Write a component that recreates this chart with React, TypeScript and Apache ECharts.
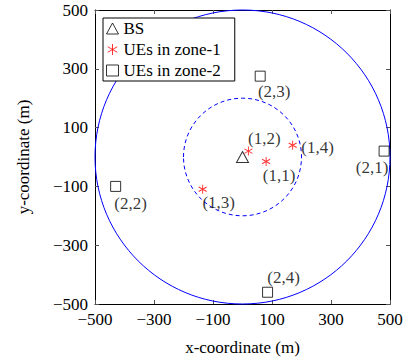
import React, { useEffect, useRef } from "react";
import * as echarts from "echarts";

const tickValues = [-500, -300, -100, 100, 300, 500];

const bsX = [0];
const bsY = [0];

const zone1Names = ["(1,1)", "(1,2)", "(1,3)", "(1,4)"];
const zone1X = [80, 20, -135, 170];
const zone1Y = [-15, 20, -110, 40];

const zone2Names = ["(2,1)", "(2,2)", "(2,3)", "(2,4)"];
const zone2X = [480, -430, 60, 85];
const zone2Y = [20, -100, 275, -460];

const circleRadii = [500, 200];
const circleDashed = [false, true];

const labelOffsets: Record<string, number[]> = {
  "(1,1)": [13, 14],
  "(1,2)": [16, -13],
  "(1,3)": [16, 13],
  "(1,4)": [25, 2],
  "(2,1)": [-12, 16],
  "(2,2)": [15, 17],
  "(2,3)": [14, 15],
  "(2,4)": [16, -15],
};

const FONT = "Liberation Serif";
const FS = 17;

const asterisk = "path://M5,0 L5,10 M0.67,2.5 L9.33,7.5 M0.67,7.5 L9.33,2.5";

function fmt(v: number) {
  return String(v).replace("-", "\u2212");
}

export default function App() {
  const ref = useRef<HTMLDivElement>(null);
  useEffect(() => {
    if (!ref.current) return;
    const chart = echarts.init(ref.current, null, { renderer: "svg" });

    const pointLabel = (name: string) => ({
      show: true,
      position: "inside",
      formatter: name,
      offset: labelOffsets[name],
      color: "#000",
      fontFamily: FONT,
      fontSize: FS,
    });

    const axisCommon = {
      type: "value",
      min: -500,
      max: 500,
      splitLine: { show: false },
      axisLine: { show: true, onZero: false, lineStyle: { color: "#000", width: 1 } },
      axisTick: { show: true, inside: true, length: 4, customValues: tickValues, lineStyle: { color: "#555" } },
    };

    const option: any = {
      animation: false,
      backgroundColor: "#fff",
      grid: { left: 95, right: 18, top: 10, bottom: 58 },
      legend: {
        orient: "vertical",
        left: 103,
        top: 18,
        data: ["BS", "UEs in zone-1", "UEs in zone-2"],
        backgroundColor: "#fff",
        borderColor: "#000",
        borderWidth: 1,
        padding: [2, 14, 2, 3],
        itemGap: 4,
        itemWidth: 12,
        itemHeight: 11,
        itemStyle: { borderWidth: 1 },
        textStyle: { color: "#000", fontFamily: FONT, fontSize: FS },
      },
      xAxis: [
        {
          ...axisCommon,
          position: "bottom",
          name: "x-coordinate (m)",
          nameLocation: "middle",
          nameGap: 35,
          nameTextStyle: { color: "#000", fontFamily: FONT, fontSize: FS },
          axisLabel: {
            customValues: tickValues,
            formatter: fmt,
            color: "#000",
            fontFamily: FONT,
            fontSize: FS,
            margin: 7,
          },
        },
        {
          ...axisCommon,
          position: "top",
          axisLabel: { show: false },
        },
      ],
      yAxis: [
        {
          ...axisCommon,
          position: "left",
          name: "y-coordinate (m)",
          nameLocation: "middle",
          nameGap: 63,
          nameTextStyle: { color: "#000", fontFamily: FONT, fontSize: FS },
          axisLabel: {
            customValues: tickValues,
            formatter: fmt,
            color: "#000",
            fontFamily: FONT,
            fontSize: FS,
            margin: 7,
          },
        },
        {
          ...axisCommon,
          position: "right",
          axisLabel: { show: false },
        },
      ],
      series: [
        {
          type: "custom",
          silent: true,
          clip: false,
          data: circleRadii.map((r, i) => [0, 0, r, circleDashed[i] ? 1 : 0]),
          renderItem: (params: any, api: any) => {
            const c = api.coord([api.value(0), api.value(1)]);
            const r = api.value(2);
            const rx = api.size([r, 0])[0];
            const ry = api.size([0, r])[1];
            const dashed = api.value(3) === 1;
            return {
              type: "ellipse",
              shape: { cx: c[0], cy: c[1], rx, ry },
              style: {
                fill: "none",
                stroke: "#0000ff",
                lineWidth: 1,
                lineDash: dashed ? [4, 3] : null,
              },
            };
          },
        },
        {
          name: "BS",
          type: "scatter",
          symbol: "triangle",
          symbolSize: [12, 11],
          itemStyle: { color: "rgba(255,255,255,0)", borderColor: "#000", borderWidth: 1 },
          data: bsX.map((x, i) => [x, bsY[i]]),
        },
        {
          name: "UEs in zone-1",
          type: "scatter",
          symbol: asterisk,
          symbolSize: [8, 9],
          itemStyle: { color: "rgba(255,255,255,0)", borderColor: "#ff0000", borderWidth: 1 },
          data: zone1X.map((x, i) => ({
            name: zone1Names[i],
            value: [x, zone1Y[i]],
            label: pointLabel(zone1Names[i]),
          })),
        },
        {
          name: "UEs in zone-2",
          type: "scatter",
          symbol: "rect",
          symbolSize: 10,
          itemStyle: { color: "rgba(255,255,255,0)", borderColor: "#000", borderWidth: 1 },
          data: zone2X.map((x, i) => ({
            name: zone2Names[i],
            value: [x, zone2Y[i]],
            label: pointLabel(zone2Names[i]),
          })),
        },
      ],
    };
    chart.setOption(option);
    return () => chart.dispose();
  }, []);

  return (
    <div
      ref={ref}
      style={{ position: "fixed", left: 0, top: 0, width: 408, height: 362 }}
    />
  );
}
